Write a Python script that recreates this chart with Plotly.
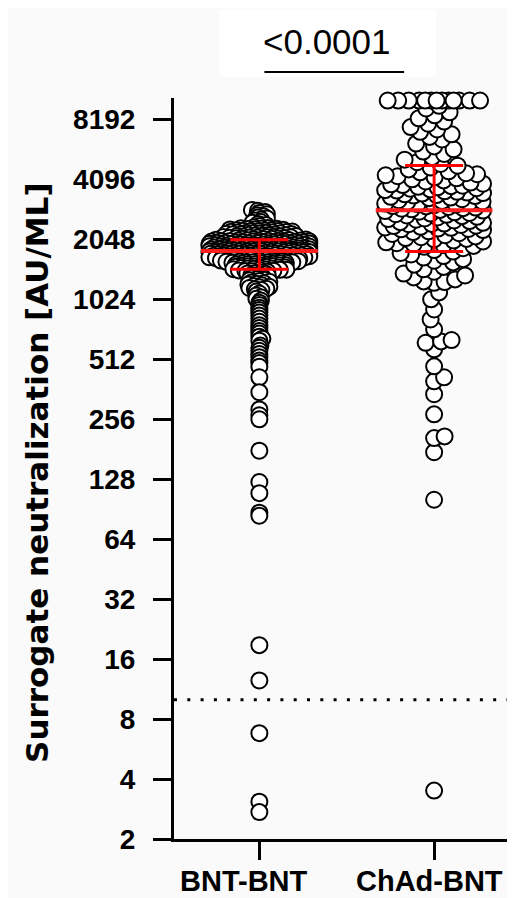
import numpy as np
import plotly.graph_objects as go

# ---------------- data (AU/mL) ----------------
categories = ["BNT-BNT", "ChAd-BNT"]

bnt_bnt = [
    # top of the dense cluster
    2880, 2850, 2810, 2780, 2740, 2710, 2680, 2640, 2610, 2580, 2550, 2510,
    2480, 2450, 2420, 2390, 2360,
    # core of the cluster
    2338, 2331, 2325, 2316, 2310, 2302, 2297, 2289, 2283, 2276, 2270, 2262, 2257, 2249, 2244,
    2236, 2231, 2223, 2218, 2211, 2205, 2198, 2193, 2186, 2180, 2174, 2168, 2161, 2156, 2149,
    2144, 2137, 2132, 2126, 2120, 2114, 2108, 2103, 2097, 2091, 2086, 2080, 2074, 2069, 2063,
    2058, 2052, 2047, 2041, 2036, 2030, 2025, 2019, 2014, 2009, 2003, 1998, 1993, 1987, 1982,
    1977, 1972, 1966, 1961, 1956, 1951, 1946, 1941, 1936, 1931, 1926, 1921, 1916, 1911, 1906,
    1901, 1896, 1891, 1887, 1882, 1877, 1872, 1868, 1863, 1858, 1854, 1849, 1844, 1840, 1835,
    1831, 1826, 1822, 1817, 1813, 1808, 1804, 1800, 1795, 1791, 1787, 1782, 1778, 1774, 1770,
    1765, 1761, 1757, 1753, 1749, 1745, 1741, 1737, 1733, 1729, 1725, 1721, 1717, 1713, 1709,
    1705, 1701, 1697, 1693, 1690, 1686, 1682, 1678, 1675, 1671, 1667, 1664, 1660, 1656, 1653,
    1649, 1646, 1642, 1639, 1635, 1632, 1628, 1625, 1621, 1618, 1614, 1611, 1608, 1604, 1601,
    1597, 1594, 1591, 1587, 1584, 1581, 1578, 1574, 1571, 1568, 1565, 1562, 2012, 1954, 1893,
    1846, 1811, 1793, 1786, 1779, 1752, 1731, 1707, 1684, 1662, 1797, 1823, 1889, 1940, 2066,
    2021, 2016, 1999, 1994, 1985, 1979, 1970, 1963, 1952, 1944, 1933, 1927, 1918, 1907, 1899,
    1886, 1879, 1865, 1857, 1843, 1836, 1828, 1815, 1806, 1798, 1789, 1781, 1772, 1763, 1755,
    1746, 1738, 1726, 1718, 1703, 1694, 1679, 1668, 1657, 1643, 2095, 2130, 2172, 2214, 2260,
    # lower shoulder
    1558, 1553, 1549, 1545, 1540, 1536, 1531, 1527, 1522, 1518, 1514, 1509, 1505, 1500,
    1496, 1491, 1487, 1483, 1478, 1474, 1470, 1465, 1461, 1457, 1452, 1448, 1444, 1440,
    1436, 1431, 1427, 1423, 1419,
    1410, 1398, 1386, 1375, 1363, 1352, 1341, 1330, 1319, 1308, 1297, 1286, 1276, 1265,
    1255, 1245, 1235, 1225, 1215, 1205, 1196, 1186, 1177, 1168, 1159, 1150, 1380,
    # tail
    1140, 1120, 1095, 1070, 1050, 1030, 1010, 985, 960, 930, 905, 880,
    850, 820, 790, 760, 735, 710, 690, 665, 650, 635,
    600, 585, 565, 545, 525, 505, 490, 470, 416, 350, 287, 268, 256,
    178, 124, 109, 87, 84, 18.8, 12.5, 6.8, 3.08, 2.73,
]

chad_bnt = [
    10200, 10200, 10200, 10200, 10200, 10200, 10200, 10200, 10200, 10200,
    10200, 10200, 10200,
    9600, 9300, 8900, 8600, 8300, 8000, 7800, 7500, 7300, 7100, 6900, 6700,
    6500, 6200, 6000, 5800, 5650, 5500,
    5300, 5150, 5000, 4900, 4800, 4700, 4600, 4500,
    4450, 4400, 4350, 4300, 4250, 4200, 4150, 4100, 4050, 4000, 3950, 3900,
    3870, 3840, 3810,
    3790, 3760, 3740, 3700, 3680, 3650, 3620, 3600, 3570, 3550, 3520, 3500,
    3480, 3450, 3420, 3400, 3380, 3350, 3320, 3300, 3260, 3220,
    3190, 3170, 3150, 3120, 3100, 3080, 3060, 3040, 3010, 3000, 2980, 2960,
    2940, 2920, 2900, 2880, 2860, 2840, 2820, 2800, 2780, 2760, 2740, 2720, 2700,
    2680, 2660, 2640, 2610, 2590, 2570, 2550, 2530, 2500, 2480, 2460, 2440,
    2420, 2400, 2390, 2370, 2350, 2340, 2320, 2310, 2300, 2450,
    2280, 2250, 2230, 2200, 2180, 2150, 2120, 2100, 2080, 2050, 2020, 2000,
    1980, 1960, 1940, 1920, 1900, 2060,
    1880, 1850, 1810, 1780, 1750, 1720, 1690, 1660, 1630, 1600,
    1570, 1530, 1490, 1450, 1410, 1380, 1350, 1320, 1290,
    1260, 1250, 1240, 1110, 1024, 911, 812, 724, 640, 630, 620, 575,
    472, 416, 397, 342, 271, 210, 206, 175, 101, 3.5,
]

# median and interquartile range drawn in red
bar_center = [1790, 2870]
bar_lower = [1450, 1780]
bar_upper = [2040, 4810]

y_tick_values = [2, 4, 8, 16, 32, 64, 128, 256, 512, 1024, 2048, 4096, 8192]
y_tick_labels = ["2", "4", "8", "16", "32", "64", "128", "256", "512",
                 "1024", "2048", "4096", "8192"]
detection_limit = 10
p_value_text = "<0.0001"
y_title = "Surrogate neutralization [AU/ML]"

# ---------------- layout geometry ----------------
# the page has an 8 px body margin, so the figure is drawn 8 px in from the corner
OFF = 8
W, H = 515 - OFF, 898 - OFF
M_L, M_R, M_T, M_B = 165.5, 0, 90, 58.5
plot_w = W - M_L - M_R
plot_h = H - M_T - M_B
px_per_x = 175.0
x_lo = -(259 - OFF - M_L) / px_per_x
x_range = [x_lo, x_lo + plot_w / px_per_x]
px_per_log2 = 60.0
y_range_log2 = [1.0, 1.0 + plot_h / px_per_log2]


def swarm(vals, sep_x, sep_y, half_w):
    """Greedy beeswarm with an elliptical minimum separation (pixels)."""
    ypx = np.log2(np.asarray(vals, float)) * px_per_log2
    order = np.argsort(ypx, kind="stable")
    steps = np.arange(0.5, half_w + 0.01, 0.5)
    cand = np.concatenate([[0.0], np.ravel(np.column_stack([steps, -steps]))])
    xs = np.zeros(len(vals))
    px, py = [], []
    for k, i in enumerate(order):
        c = cand if k % 2 == 0 else -cand
        x = 0.0
        if px:
            P = np.array(px)
            Q = np.array(py)
            m = np.abs(Q - ypx[i]) < sep_y
            if m.any():
                dx = (c[:, None] - P[m][None, :]) / sep_x
                dy = ((Q[m] - ypx[i]) / sep_y)[None, :]
                dist = np.sqrt(dx ** 2 + dy ** 2).min(axis=1)
                ok = np.nonzero(dist >= 1.0)[0]
                j = ok[0] if len(ok) else int(np.argmax(dist))
                x = c[j]
        xs[i] = x
        px.append(x)
        py.append(ypx[i])
    return xs / px_per_x


fig = go.Figure()

# (values, x-separation px, y-separation px, half width px, draw top-down?)
groups = [(bnt_bnt, 6.5, 2.2, 50.0, True), (chad_bnt, 10.5, 10.5, 49.0, False)]
for gi, (vals, sx, sy, hw, top_down) in enumerate(groups):
    vals_sorted = np.array(sorted(vals), float)
    off = swarm(vals_sorted, sx, sy, hw)
    if top_down:
        vals_sorted = vals_sorted[::-1]
        off = off[::-1]
    fig.add_trace(go.Scatter(
        x=gi + off, y=vals_sorted, mode="markers", cliponaxis=False,
        marker=dict(symbol="circle", size=16, color="white",
                    line=dict(color="black", width=2)),
        hoverinfo="skip",
    ))

# red median / IQR bars
mx, my, ex, ey = [], [], [], []
for gi in range(len(categories)):
    mx += [gi - 0.334, gi + 0.334, None]
    my += [bar_center[gi], bar_center[gi], None]
    ex += [gi - 0.166, gi + 0.166, None, gi - 0.166, gi + 0.166, None, gi, gi, None]
    ey += [bar_lower[gi], bar_lower[gi], None, bar_upper[gi], bar_upper[gi], None,
           bar_lower[gi], bar_upper[gi], None]
fig.add_trace(go.Scatter(x=ex, y=ey, mode="lines", line=dict(color="#ff0000", width=3),
                         hoverinfo="skip", cliponaxis=False))
fig.add_trace(go.Scatter(x=mx, y=my, mode="lines", line=dict(color="#ff1e1e", width=4),
                         hoverinfo="skip", cliponaxis=False))


def px_x(p):
    """page pixel x -> paper coordinate"""
    return (p - OFF - M_L) / plot_w


def px_y(p):
    """page pixel y -> paper coordinate"""
    return (H - M_B - (p - OFF)) / plot_h


# detection limit (dotted)
fig.add_shape(type="line", xref="paper", yref="y", x0=0.0, x1=px_x(508),
              y0=detection_limit, y1=detection_limit, layer="above",
              line=dict(color="black", width=3, dash="3px,10.3px"))

# p-value box, text and bracket
fig.add_shape(type="rect", xref="paper", yref="paper",
              x0=px_x(219), x1=px_x(436), y0=px_y(77), y1=px_y(10),
              fillcolor="white", line=dict(width=0), layer="below")
fig.add_shape(type="line", xref="paper", yref="paper",
              x0=px_x(264), x1=px_x(404), y0=px_y(72), y1=px_y(72),
              line=dict(color="black", width=2))
fig.add_annotation(text=p_value_text, xref="paper", yref="paper",
                   x=px_x(327), y=px_y(41), xanchor="center", yanchor="middle",
                   showarrow=False,
                   font=dict(family="Liberation Sans, Arial", size=35, color="black"))

# category labels (placed as in the original, slightly left of the ticks)
cat_label_x = [243.5, 429]
for lab, xp in zip(categories, cat_label_x):
    fig.add_annotation(text=lab, xref="paper", yref="paper",
                       x=px_x(xp), y=px_y(882), xanchor="center", yanchor="middle",
                       showarrow=False,
                       font=dict(family="Liberation Sans, Arial", size=29,
                                 color="black", weight="bold"))

# y-axis title
fig.add_annotation(text=y_title, xref="paper", yref="paper",
                   x=px_x(37), y=px_y(472.5), xanchor="center", yanchor="middle",
                   textangle=-90, showarrow=False,
                   font=dict(family="DejaVu Sans", size=31, color="black", weight="bold"))

tick_font = dict(family="Liberation Sans, Arial", size=28, color="black", weight="bold")

fig.update_layout(
    width=W, height=H,
    margin=dict(l=M_L, r=M_R, t=M_T, b=M_B, pad=0, autoexpand=False),
    paper_bgcolor="#fafafa", plot_bgcolor="#fafafa",
    showlegend=False,
    xaxis=dict(
        range=x_range, tickmode="array", tickvals=[0, 1], ticktext=categories,
        showticklabels=False,
        showline=True, linecolor="black", linewidth=3,
        ticks="outside", ticklen=18, tickwidth=3, tickcolor="black",
        showgrid=False, zeroline=False, automargin=False,
    ),
    yaxis=dict(
        type="log", range=[np.log10(2) * y_range_log2[0], np.log10(2) * y_range_log2[1]],
        tickmode="array", tickvals=y_tick_values, ticktext=y_tick_labels,
        showline=True, linecolor="black", linewidth=3,
        ticks="outside", ticklen=18, tickwidth=3, tickcolor="black",
        tickfont=tick_font, showgrid=False, zeroline=False,
        ticklabelstandoff=12, automargin=False,
    ),
)

fig.write_html("out.html")
